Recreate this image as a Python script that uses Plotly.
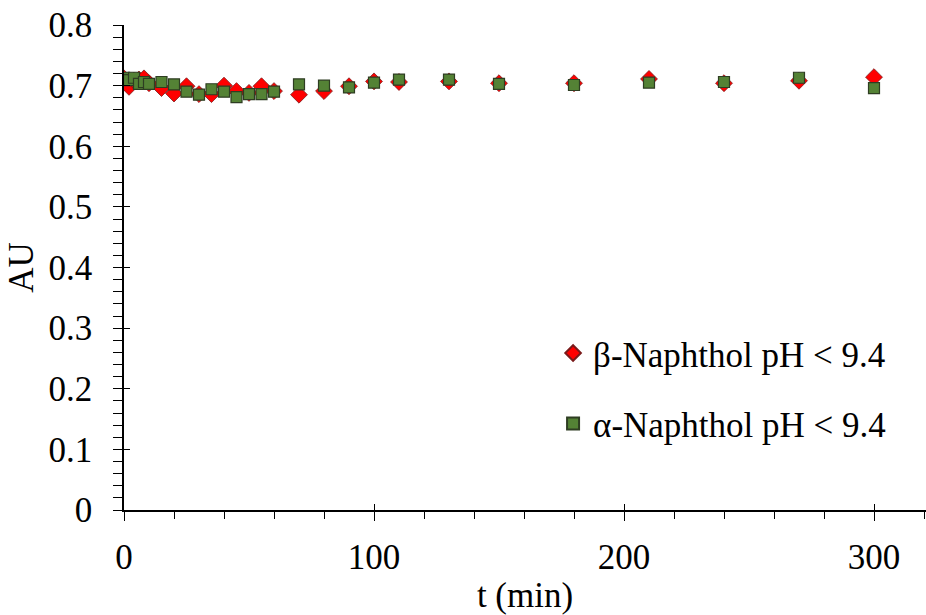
import plotly.graph_objects as go

t = [0, 2, 4, 6, 8, 10, 15, 20, 25, 30, 35, 40, 45, 50, 55, 60, 70, 80, 90,
     100, 110, 130, 150, 180, 210, 240, 270, 300]
beta = [0.712, 0.698, 0.708, 0.710, 0.712, 0.704, 0.696, 0.687, 0.699, 0.686,
        0.686, 0.700, 0.691, 0.688, 0.699, 0.691, 0.685, 0.691, 0.699,
        0.707, 0.706, 0.707, 0.704, 0.704, 0.711, 0.704, 0.708, 0.714]
alpha = [0.713, 0.709, 0.713, 0.703, 0.706, 0.703, 0.706, 0.702, 0.690, 0.685,
         0.694, 0.690, 0.681, 0.686, 0.686, 0.690, 0.702, 0.700, 0.697,
         0.705, 0.710, 0.710, 0.703, 0.701, 0.705, 0.706, 0.713, 0.696]

beta_name = "β-Naphthol pH < 9.4"
alpha_name = "α-Naphthol pH < 9.4"

XR = [0, 320.8]
YR = [0, 0.8]
FONT = "Liberation Serif"
FS = 35

fig = go.Figure()
fig.add_trace(go.Scatter(
    x=t, y=beta, mode="markers", name=beta_name, legendgroup="b",
    marker=dict(symbol="diamond", size=13, color="#FF0000",
                line=dict(color="#7a1a1a", width=0.8)),
))
fig.add_trace(go.Scatter(
    x=t, y=alpha, mode="markers", name=alpha_name, legendgroup="a",
    marker=dict(symbol="square", size=11, color="#548235",
                line=dict(color="#2e3d22", width=1.2)),
))
# invisible trace for overlay axes (crossing major ticks)
fig.add_trace(go.Scatter(x=[XR[0]], y=[YR[0]], xaxis="x2", yaxis="y2",
                         mode="markers", marker=dict(opacity=0),
                         showlegend=False, hoverinfo="skip"))

tf = dict(family=FONT, size=FS, color="black")

fig.update_layout(
    width=926, height=615,
    margin=dict(l=124, r=0, t=25, b=105),
    paper_bgcolor="white", plot_bgcolor="white",
    font=tf,
    showlegend=True,
    legend=dict(x=0.535, y=0.384, xanchor="left", yanchor="top",
                bgcolor="rgba(0,0,0,0)", tracegroupgap=22,
                font=tf, itemsizing="constant"),
    xaxis=dict(range=XR, showgrid=False, zeroline=False, showline=True,
               linecolor="black", linewidth=1.5,
               tickmode="array", tickvals=[0, 100, 200, 300],
               ticks="outside", ticklen=9, tickwidth=1.3, tickcolor="black",
               minor=dict(tickmode="array",
                          tickvals=[20, 40, 60, 80, 120, 140, 160, 180,
                                    220, 240, 260, 280, 320],
                          ticks="outside", ticklen=7, tickwidth=1, tickcolor="black"),
               tickfont=tf,
               title=dict(text="t (min)", font=tf, standoff=15),
               ticklabelstandoff=6),
    yaxis=dict(range=YR, showgrid=False, zeroline=False, showline=True,
               linecolor="black", linewidth=1.5,
               tickmode="linear", tick0=0, dtick=0.1, tickformat="~g",
               ticks="outside", ticklen=9, tickwidth=1.3, tickcolor="black",
               minor=dict(dtick=0.02, ticks="outside", ticklen=9,
                          tickwidth=1, tickcolor="black"),
               tickfont=tf,
               title=dict(text="AU", font=tf, standoff=4),
               ticklabelstandoff=14),
    xaxis2=dict(range=XR, overlaying="x", anchor="y2", showgrid=False,
                zeroline=False, showline=False, showticklabels=False,
                tickmode="array", tickvals=[0, 100, 200, 300],
                ticks="inside", ticklen=6, tickwidth=1.3, tickcolor="black"),
    yaxis2=dict(range=YR, overlaying="y", anchor="x2", showgrid=False,
                zeroline=False, showline=False, showticklabels=False,
                tickmode="linear", tick0=0, dtick=0.1,
                ticks="inside", ticklen=6, tickwidth=1.3, tickcolor="black"),
)

fig.write_html("out.html")
